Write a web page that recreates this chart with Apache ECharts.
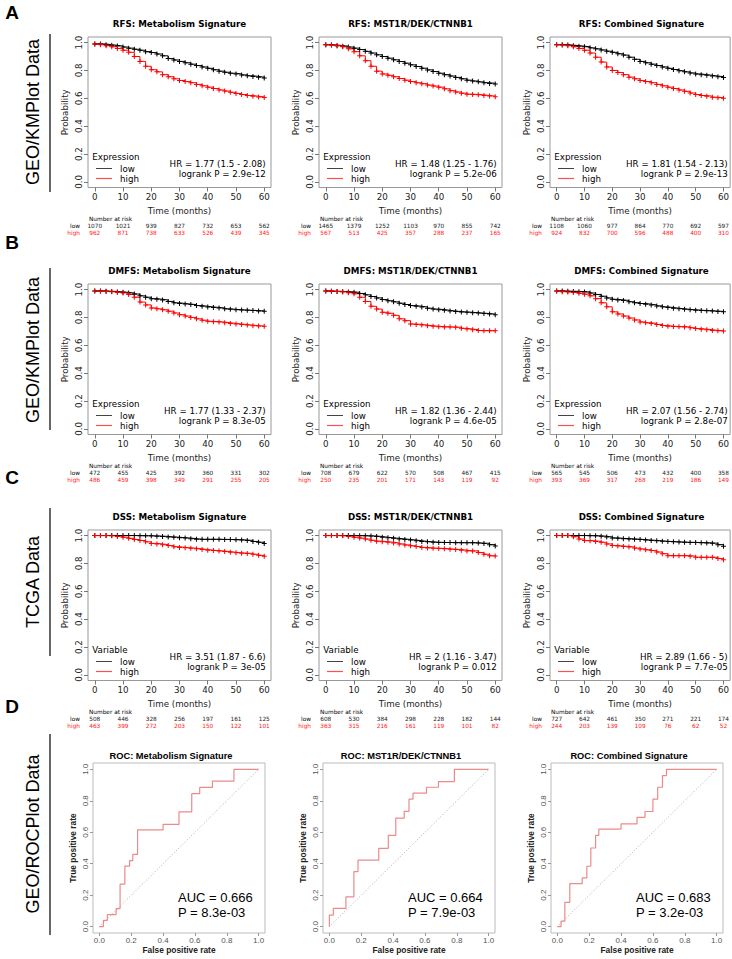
<!DOCTYPE html>
<html><head><meta charset="utf-8">
<script src="https://cdn.jsdelivr.net/npm/echarts@6/dist/echarts.min.js"></script>
<style>html,body{margin:0;padding:0;background:#fff}#c{width:732px;height:959px}</style>
</head><body><div id="c"></div>
<script>
// ---------- DATA ----------
const kmTimes = [0,2,4,6,8,10,12,14,16,18,20,22,24,26,28,30,32,34,36,38,40,42,44,46,48,50,52,54,56,58,60];
const kmTicks = [0,10,20,30,40,50,60];
const probTicks = [0,0.2,0.4,0.6,0.8,1];
const rocTicks = [0,0.2,0.4,0.6,0.8,1];

const kmTitles = ['RFS: Metabolism Signature','RFS: MST1R/DEK/CTNNB1','RFS: Combined Signature',
  'DMFS: Metabolism Signature','DMFS: MST1R/DEK/CTNNB1','DMFS: Combined Signature',
  'DSS: Metabolism Signature','DSS: MST1R/DEK/CTNNB1','DSS: Combined Signature'];
const kmLegendTitles = ['Expression','Expression','Expression','Expression','Expression','Expression','Variable','Variable','Variable'];
const hrTexts = ['HR = 1.77 (1.5 - 2.08)','HR = 1.48 (1.25 - 1.76)','HR = 1.81 (1.54 - 2.13)',
  'HR = 1.77 (1.33 - 2.37)','HR = 1.82 (1.36 - 2.44)','HR = 2.07 (1.56 - 2.74)',
  'HR = 3.51 (1.87 - 6.6)','HR = 2 (1.16 - 3.47)','HR = 2.89 (1.66 - 5)'];
const logrankTexts = ['logrank P = 2.9e-12','logrank P = 5.2e-06','logrank P = 2.9e-13',
  'logrank P = 8.3e-05','logrank P = 4.6e-05','logrank P = 2.8e-07',
  'logrank P = 3e-05','logrank P = 0.012','logrank P = 7.7e-05'];

const rfsMetLow  = [.99,.99,.985,.98,.975,.968,.96,.952,.945,.935,.928,.918,.905,.885,.875,.865,.855,.845,.835,.825,.815,.805,.795,.787,.78,.775,.768,.762,.757,.752,.745];
const rfsMetHigh = [.99,.985,.978,.97,.958,.945,.93,.9,.865,.83,.805,.79,.77,.755,.74,.728,.72,.712,.70,.69,.68,.67,.66,.652,.643,.635,.627,.62,.615,.61,.605];
const rfsMstLow  = [.985,.982,.978,.974,.968,.96,.95,.937,.925,.912,.90,.888,.876,.864,.852,.84,.828,.816,.804,.792,.78,.77,.76,.75,.74,.73,.724,.718,.712,.707,.703];
const rfsMstHigh = [.985,.982,.978,.97,.955,.935,.905,.87,.83,.795,.775,.765,.755,.742,.73,.72,.712,.705,.695,.688,.68,.668,.655,.645,.637,.63,.628,.625,.62,.616,.612];
const rfsCombLow  = [.985,.984,.982,.978,.974,.97,.962,.955,.947,.938,.93,.92,.91,.895,.88,.865,.855,.845,.835,.825,.815,.807,.798,.79,.782,.775,.77,.765,.76,.755,.75];
const rfsCombHigh = [.985,.982,.978,.97,.958,.945,.925,.895,.86,.825,.80,.785,.77,.752,.74,.727,.72,.712,.70,.69,.68,.67,.66,.65,.638,.627,.62,.615,.608,.604,.60];
const dmfsMetLow  = [.99,.99,.988,.986,.983,.98,.975,.968,.955,.945,.935,.93,.925,.915,.905,.90,.896,.892,.885,.88,.875,.872,.868,.862,.858,.855,.853,.851,.849,.847,.845];
const dmfsMetHigh = [.99,.988,.986,.984,.98,.976,.965,.945,.91,.89,.868,.862,.855,.845,.832,.82,.81,.80,.79,.78,.772,.77,.767,.762,.757,.753,.749,.745,.741,.738,.736];
const dmfsMstLow  = [.99,.988,.986,.985,.983,.98,.972,.962,.95,.94,.928,.92,.912,.902,.893,.885,.88,.875,.866,.86,.856,.851,.846,.842,.839,.837,.834,.831,.828,.824,.82];
const dmfsMstHigh = [.99,.988,.987,.985,.978,.97,.945,.915,.88,.86,.837,.83,.815,.79,.777,.753,.75,.745,.74,.737,.734,.732,.731,.729,.722,.717,.712,.706,.705,.705,.705];
const dmfsCombLow  = [.99,.989,.988,.987,.985,.983,.975,.965,.952,.94,.93,.926,.922,.913,.906,.90,.895,.89,.883,.876,.871,.866,.862,.858,.855,.852,.85,.848,.846,.843,.84];
const dmfsCombHigh = [.99,.985,.982,.979,.973,.967,.955,.935,.905,.876,.84,.825,.81,.796,.782,.768,.762,.757,.75,.742,.737,.735,.734,.732,.726,.72,.716,.712,.707,.704,.702];
const dssMetLow  = [1,1,1,1,1,1,1,1,.999,.998,.998,.996,.994,.99,.988,.985,.982,.978,.973,.973,.973,.973,.973,.972,.971,.97,.968,.965,.958,.952,.944];
const dssMetHigh = [1,1,1,.998,.994,.988,.98,.972,.965,.955,.944,.94,.935,.928,.92,.915,.912,.909,.905,.9,.895,.892,.889,.885,.88,.876,.874,.872,.866,.858,.852];
const dssMstLow  = [1,1,1,1,1,1,.999,.998,.997,.993,.988,.984,.98,.976,.972,.968,.963,.958,.955,.952,.951,.95,.95,.949,.949,.949,.948,.946,.944,.935,.925];
const dssMstHigh = [1,1,1,.998,.994,.988,.982,.975,.966,.96,.956,.952,.947,.94,.933,.927,.921,.915,.911,.909,.908,.905,.902,.9,.895,.89,.89,.878,.866,.855,.854];
const dssCombLow  = [1,1,1,1,1,1,.999,.998,.995,.99,.983,.98,.978,.976,.974,.971,.968,.965,.962,.959,.957,.955,.953,.952,.951,.95,.949,.947,.945,.935,.923];
const dssCombHigh = [1,1,1,.992,.975,.964,.962,.958,.952,.94,.928,.925,.922,.918,.91,.904,.898,.892,.882,.87,.856,.856,.856,.856,.852,.844,.844,.844,.844,.835,.827];

const riskRfsMetLow = [1070,1021,939,827,732,653,562];
const riskRfsMetHigh = [962,871,738,633,526,439,345];
const riskRfsMstLow = [1465,1379,1252,1103,970,855,742];
const riskRfsMstHigh = [567,513,425,357,288,237,165];
const riskRfsCombLow = [1108,1060,977,864,770,692,597];
const riskRfsCombHigh = [924,832,700,596,488,400,310];
const riskDmfsMetLow = [472,455,425,392,360,331,302];
const riskDmfsMetHigh = [486,459,398,349,291,255,205];
const riskDmfsMstLow = [708,679,622,570,508,467,415];
const riskDmfsMstHigh = [250,235,201,171,143,119,92];
const riskDmfsCombLow = [565,545,506,473,432,400,358];
const riskDmfsCombHigh = [393,369,317,268,219,186,149];
const riskDssMetLow = [508,446,328,256,197,161,125];
const riskDssMetHigh = [463,399,272,203,150,122,101];
const riskDssMstLow = [608,530,384,298,228,182,144];
const riskDssMstHigh = [363,315,216,161,119,101,82];
const riskDssCombLow = [727,642,461,350,271,221,174];
const riskDssCombHigh = [244,203,139,109,76,62,52];

const rocTitles = ['ROC: Metabolism Signature','ROC: MST1R/DEK/CTNNB1','ROC: Combined Signature'];
const rocAuc = ['AUC = 0.666','AUC = 0.664','AUC = 0.683'];
const rocP = ['P = 8.3e-03','P = 7.9e-03','P = 3.2e-03'];
const rocMetFpr = [0,.025,.05,.105,.13,.16,.19,.21,.24,.40,.50,.58,.63,.71,.845,1.0];
const rocMetTpr = [0,.04,.077,.115,.27,.385,.42,.46,.615,.65,.73,.845,.885,.925,1.0,1.0];
const rocMstFpr = [0,0,.025,.104,.154,.18,.31,.37,.417,.47,.50,.525,.61,.685,.785,1.0];
const rocMstTpr = [0,.074,.116,.19,.35,.423,.497,.58,.69,.733,.81,.848,.886,.922,1.0,1.0];
const rocCombFpr = [0,.023,.047,.078,.156,.185,.21,.24,.26,.40,.50,.55,.60,.63,.66,.685,1.0];
const rocCombTpr = [0,.035,.155,.274,.31,.384,.50,.58,.62,.653,.695,.732,.81,.886,.96,1.0,1.0];
const rocOptFpr = [0.24,0.417,0.26];
const rocOptTpr = [0.615,0.69,0.62];
const diagFpr = [0,1];
const diagTpr = [0,1];

const sideLetters = ['A','B','C','D'];
const sideLabels = ['GEO/KMPlot Data','GEO/KMPlot Data','TCGA Data','GEO/ROCPlot Data'];

// ---------- LAYOUT ----------
const KM_LEFT = [88,319,550], KM_TOP = [37,284,530], KM_W = 183, KM_H = 150.5;
const ROC_LEFT = [93,323,551], ROC_TOP = 763, ROC_W = 172, ROC_H = 170;
const KMF = 'DejaVu Sans', RF = 'Liberation Sans';
const plusPath = 'path://M4,0H6V4H10V6H6V10H4V6H0V4H4Z';

const kmLow = [rfsMetLow,rfsMstLow,rfsCombLow,dmfsMetLow,dmfsMstLow,dmfsCombLow,dssMetLow,dssMstLow,dssCombLow];
const kmHigh = [rfsMetHigh,rfsMstHigh,rfsCombHigh,dmfsMetHigh,dmfsMstHigh,dmfsCombHigh,dssMetHigh,dssMstHigh,dssCombHigh];
const riskLow = [riskRfsMetLow,riskRfsMstLow,riskRfsCombLow,riskDmfsMetLow,riskDmfsMstLow,riskDmfsCombLow,riskDssMetLow,riskDssMstLow,riskDssCombLow];
const riskHigh = [riskRfsMetHigh,riskRfsMstHigh,riskRfsCombHigh,riskDmfsMetHigh,riskDmfsMstHigh,riskDmfsCombHigh,riskDssMetHigh,riskDssMstHigh,riskDssCombHigh];
const rocFpr = [rocMetFpr,rocMstFpr,rocCombFpr];
const rocTpr = [rocMetTpr,rocMstTpr,rocCombTpr];

const grids=[], xAxis=[], yAxis=[], series=[], graphic=[];
let gid=0;
function txt(x,y,s,o){ graphic.push(Object.assign({type:'text',id:'t'+(gid++),x:x,y:y,silent:true,
  style:Object.assign({text:s,fill:'#000',fontSize:8.7,fontFamily:KMF,align:'left',verticalAlign:'middle'},o.style||{})},
  o.rotation!==undefined?{rotation:o.rotation}:{})); }
function seg(x1,y1,x2,y2,col,w){ graphic.push({type:'line',id:'l'+(gid++),silent:true,shape:{x1:x1,y1:y1,x2:x2,y2:y2},style:{stroke:col,fill:null,lineWidth:w}}); }

for (let i=0;i<9;i++){
  const r=Math.floor(i/3), c=i%3;
  const L=KM_LEFT[c], T=KM_TOP[r], B=T+KM_H, R=L+KM_W;
  const g=grids.length;
  grids.push({left:L,top:T,width:KM_W,height:KM_H,show:true,borderColor:'#999',borderWidth:1,backgroundColor:'rgba(0,0,0,0)'});
  const xi=xAxis.length;
  xAxis.push({gridIndex:g,type:'value',min:-2.4,max:62.4,position:'bottom',
    axisLine:{show:false,onZero:false},splitLine:{show:false},
    axisTick:{customValues:kmTicks,length:4,lineStyle:{color:'#777'}},
    axisLabel:{customValues:kmTicks,fontSize:8.7,color:'#222',margin:5,fontFamily:KMF},
    name:'Time (months)',nameLocation:'middle',nameGap:19,nameTextStyle:{fontSize:8.7,color:'#222',fontFamily:KMF}});
  const rl=riskLow[i], rh=riskHigh[i];
  xAxis.push({gridIndex:g,type:'value',min:-2.4,max:62.4,position:'bottom',offset:35,
    axisLine:{show:false,onZero:false},axisTick:{show:false},splitLine:{show:false},
    axisLabel:{customValues:kmTicks,fontSize:5.8,color:'#222',margin:0,fontFamily:KMF,formatter:v=>String(rl[Math.round(v/10)])}});
  xAxis.push({gridIndex:g,type:'value',min:-2.4,max:62.4,position:'bottom',offset:42,
    axisLine:{show:false,onZero:false},axisTick:{show:false},splitLine:{show:false},
    axisLabel:{customValues:kmTicks,fontSize:5.8,color:'#ff2020',margin:0,fontFamily:KMF,formatter:v=>String(rh[Math.round(v/10)])}});
  const yi=yAxis.length;
  yAxis.push({gridIndex:g,type:'value',min:-0.04,max:1.04,
    axisLine:{show:false,onZero:false},splitLine:{show:false},
    axisTick:{customValues:probTicks,length:4,lineStyle:{color:'#777'}},
    axisLabel:{customValues:probTicks,rotate:90,fontSize:8.7,color:'#222',margin:5,fontFamily:KMF,formatter:v=>v.toFixed(1)},
    name:'Probability',nameLocation:'middle',nameGap:19,nameRotate:90,nameTextStyle:{fontSize:8.7,color:'#222',fontFamily:KMF}});
  [[kmLow[i],'#000'],[kmHigh[i],'#ff0000']].forEach(([arr,col])=>{
    series.push({type:'line',xAxisIndex:xi,yAxisIndex:yi,step:'end',data:kmTimes.map((t,k)=>[t,arr[k]]),
      symbol:plusPath,symbolSize:5,showSymbol:true,lineStyle:{color:col,width:1},itemStyle:{color:col},
      silent:true,animation:false});
  });
  // texts
  txt(L+KM_W/2,T-13,kmTitles[i],{style:{fontWeight:'bold',align:'center'}});
  txt(L+4.3,B-31,kmLegendTitles[i],{style:{}});
  seg(L+8,B-19,L+24,B-19,'#444',1);
  seg(L+8,B-9,L+24,B-9,'#ff5050',1.2);
  txt(L+32,B-19,'low',{style:{}});
  txt(L+32,B-9,'high',{style:{}});
  txt(R-5.3,B-24,hrTexts[i],{style:{align:'right'}});
  txt(R-5.3,B-14,logrankTexts[i],{style:{align:'right'}});
  txt(L+1,B+31,'Number at risk',{style:{fontSize:5.8}});
  txt(L-8,B+38,'low',{style:{fontSize:5.8,align:'right'}});
  txt(L-8,B+45,'high',{style:{fontSize:5.8,align:'right',fill:'#ff2020'}});
}

for (let j=0;j<3;j++){
  const L=ROC_LEFT[j], T=ROC_TOP, B=T+ROC_H;
  const g=grids.length;
  grids.push({left:L,top:T,width:ROC_W,height:ROC_H,show:true,borderColor:'#bbb',borderWidth:1,backgroundColor:'rgba(0,0,0,0)'});
  const xi=xAxis.length, yi=yAxis.length;
  xAxis.push({gridIndex:g,type:'value',min:-0.04,max:1.04,position:'bottom',
    axisLine:{show:false,onZero:false},splitLine:{show:false},
    axisTick:{customValues:rocTicks,length:3,lineStyle:{color:'#999'}},
    axisLabel:{customValues:rocTicks,fontSize:8,color:'#555',margin:3,fontFamily:RF,formatter:v=>v.toFixed(1)},
    name:'False positive rate',nameLocation:'middle',nameGap:13,nameTextStyle:{fontSize:8.4,fontWeight:'bold',color:'#222',fontFamily:RF}});
  yAxis.push({gridIndex:g,type:'value',min:-0.04,max:1.04,
    axisLine:{show:false,onZero:false},splitLine:{show:false},
    axisTick:{customValues:rocTicks,length:3,lineStyle:{color:'#999'}},
    axisLabel:{customValues:rocTicks,rotate:90,fontSize:8,color:'#555',margin:4,fontFamily:RF,formatter:v=>v.toFixed(1)},
    name:'True positive rate',nameLocation:'middle',nameGap:16,nameRotate:90,nameTextStyle:{fontSize:8.4,fontWeight:'bold',color:'#222',fontFamily:RF}});
  series.push({type:'line',xAxisIndex:xi,yAxisIndex:yi,data:diagFpr.map((v,k)=>[v,diagTpr[k]]),symbol:'none',
    lineStyle:{color:'#999',width:0.8,type:[1,2]},silent:true,animation:false});
  series.push({type:'line',xAxisIndex:xi,yAxisIndex:yi,step:'end',data:rocFpr[j].map((v,k)=>[v,rocTpr[j][k]]),symbol:'none',
    lineStyle:{color:'#ec8a8a',width:1.2},silent:true,animation:false});
  series.push({type:'scatter',xAxisIndex:xi,yAxisIndex:yi,data:[[rocOptFpr[j],rocOptTpr[j]]],symbol:'emptyCircle',symbolSize:4,
    itemStyle:{color:'#fff',borderColor:'#777',borderWidth:0.8},silent:true,animation:false});
  txt(L+ROC_W/2-8,T-7,rocTitles[j],{style:{fontFamily:RF,fontSize:9.3,fontWeight:'bold',align:'center'}});
  txt(L+85,T+134,rocAuc[j],{style:{fontFamily:RF,fontSize:13}});
  txt(L+85,T+149,rocP[j],{style:{fontFamily:RF,fontSize:13}});
}

// side labels
const letterY=[12,242,477,706], labelY=[112,350,582,834], barY=[[34,192],[268,430],[508,656],[734,935]];
for (let k=0;k<4;k++){
  txt(12,letterY[k],sideLetters[k],{style:{fontFamily:RF,fontSize:19,fontWeight:'bold',align:'center'}});
  txt(33,labelY[k],sideLabels[k],{rotation:Math.PI/2,style:{fontFamily:RF,fontSize:18,align:'center'}});
  seg(50,barY[k][0],50,barY[k][1],'#000',1.2);
}

const chart = echarts.init(document.getElementById('c'),null,{renderer:'svg',width:732,height:959});
chart.setOption({animation:false,backgroundColor:'#fff',grid:grids,xAxis:xAxis,yAxis:yAxis,series:series,graphic:graphic});
</script></body></html>
